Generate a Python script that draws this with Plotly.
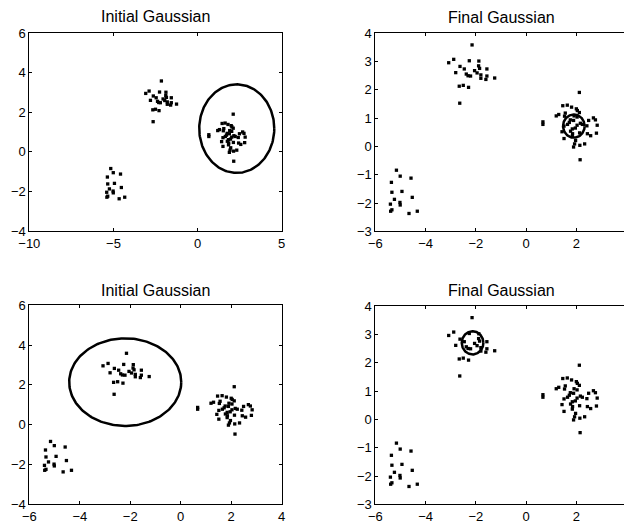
import numpy as np
import plotly.graph_objects as go

# ---- data ----
cluster_a_x = [-5.16, -5.01, -4.58, -5.36, -4.94, -5.34, -4.53, -5.24, -5.40, -5.02, -5.01, -5.34, -5.39, -4.66, -4.33]
cluster_a_y = [-0.84, -1.05, -1.12, -1.27, -1.59, -1.62, -1.80, -1.87, -2.04, -1.98, -2.07, -2.24, -2.29, -2.37, -2.29]

cluster_b_x = [-2.15, -2.88, -3.08, -2.26, -1.88, -2.63, -2.46, -2.80, -1.89, -1.85, -2.05, -2.38, -2.31,
               -2.21, -1.95, -1.80, -1.56, -1.56, -1.60, -1.80, -1.25, -2.66, -2.50, -2.29, -2.64]
cluster_b_y = [3.59, 3.08, 2.96, 3.03, 3.02, 2.83, 2.74, 2.61, 2.85, 2.76, 2.68, 2.56, 2.50,
               2.49, 2.60, 2.53, 2.74, 2.49, 2.37, 2.41, 2.42, 2.13, 2.16, 2.09, 1.53]

cluster_c_x = [2.12, 1.46, 1.64, 1.81, 2.00, 2.04, 2.12, 1.20, 1.30, 1.56, 1.53, 1.91, 2.03, 2.68, 0.67,
               1.76, 1.89, 1.72, 2.49, 2.76, 2.16, 0.67, 1.65, 1.51, 2.24, 2.42, 2.83, 2.03, 1.84, 1.96,
               1.43, 1.77, 1.85, 2.13, 2.44, 2.80, 2.57, 1.51, 1.84, 1.97, 1.93, 2.14, 2.33, 1.89, 2.15]
cluster_c_y = [1.91, 1.44, 1.46, 1.39, 1.33, 1.27, 1.20, 1.08, 1.13, 1.18, 1.07, 1.08, 1.04, 1.01, 0.87,
               0.94, 0.92, 0.85, 0.92, 0.94, 0.82, 0.78, 0.78, 0.72, 0.78, 0.73, 0.75, 0.75, 0.62, 0.65,
               0.52, 0.54, 0.45, 0.48, 0.45, 0.47, 0.38, 0.28, 0.36, 0.21, 0.09, 0.04, 0.09, -0.02, -0.47]

titles = ["Initial Gaussian", "Final Gaussian", "Initial Gaussian", "Final Gaussian"]

# Gaussian contour: centre and radii
ell_cx = [2.33, 1.90, -2.20, -2.13]
ell_cy = [1.18, 0.72, 2.14, 2.70]
ell_rx = [2.23, 0.43, 2.22, 0.43]
ell_ry = [2.24, 0.41, 2.20, 0.41]

x_ranges = [[-10, 5], [-6, 3.897], [-6, 4], [-6, 3.897]]
y_ranges = [[-4, 6], [-3, 4], [-4, 6], [-3, 4]]
x_ticks = [[-10, -5, 0, 5], [-6, -4, -2, 0, 2, 4], [-6, -4, -2, 0, 2, 4], [-6, -4, -2, 0, 2, 4]]
y_ticks = [[-4, -2, 0, 2, 4, 6], [-3, -2, -1, 0, 1, 2, 3, 4], [-4, -2, 0, 2, 4, 6], [-3, -2, -1, 0, 1, 2, 3, 4]]

# ---- layout geometry (pixels) ----
W, H = 624, 523
boxes = [  # left, right, top, bottom
    (29.33, 281.67, 33.33, 231.0),
    (375.33, 624.0, 33.33, 231.3),
    (29.33, 281.67, 305.33, 504.33),
    (375.33, 624.0, 306.0, 504.33),
]
title_pos = [(155.5, 16.5), (501.0, 17.0), (155.5, 290.5), (501.0, 290.0)]

pts_x = cluster_a_x + cluster_b_x + cluster_c_x
pts_y = cluster_a_y + cluster_b_y + cluster_c_y

font_family = "Liberation Sans, Arial, Helvetica, sans-serif"
fig = go.Figure()
t = np.linspace(0, 2 * np.pi, 200)

for i in range(4):
    xa = "x" if i == 0 else f"x{i + 1}"
    ya = "y" if i == 0 else f"y{i + 1}"
    fig.add_trace(go.Scatter(x=pts_x, y=pts_y, mode="markers", xaxis=xa, yaxis=ya,
                             marker=dict(symbol="square", size=3.3, color="black", line=dict(width=0)),
                             showlegend=False, hoverinfo="skip", cliponaxis=False))
    ex = ell_cx[i] + ell_rx[i] * np.cos(t)
    ey = ell_cy[i] + ell_ry[i] * np.sin(t)
    fig.add_trace(go.Scatter(x=ex, y=ey, mode="lines", xaxis=xa, yaxis=ya,
                             line=dict(color="black", width=2.5),
                             showlegend=False, hoverinfo="skip"))

    l, r, tp, b = boxes[i]
    right_col = i in (1, 3)
    common = dict(showline=True, linecolor="black", linewidth=1, ticks="inside", ticklen=3,
                  tickcolor="black", tickwidth=1, showgrid=False, zeroline=False,
                  automargin=False,
                  tickfont=dict(family=font_family, size=13, color="black"), fixedrange=True)
    xkey = "xaxis" if i == 0 else f"xaxis{i + 1}"
    ykey = "yaxis" if i == 0 else f"yaxis{i + 1}"
    fig.update_layout(**{
        xkey: dict(domain=[l / W, r / W], range=x_ranges[i], tickvals=x_ticks[i],
                   anchor=ya, mirror="ticks", **common),
        ykey: dict(domain=[1 - b / H, 1 - tp / H], range=y_ranges[i], tickvals=y_ticks[i],
                   anchor=xa, mirror=(False if right_col else "ticks"), **common),
    })
    fig.add_annotation(text=titles[i], xref="paper", yref="paper",
                       x=title_pos[i][0] / W, y=1 - title_pos[i][1] / H,
                       xanchor="center", yanchor="middle", showarrow=False,
                       font=dict(family=font_family, size=16, color="black"))

fig.update_layout(width=W, height=H, margin=dict(l=0, r=0, t=0, b=0, autoexpand=False),
                  paper_bgcolor="white", plot_bgcolor="white")
fig.write_html("out.html", config={"displayModeBar": False},
               post_script="document.body.style.margin='0';document.body.style.overflow='hidden';")
